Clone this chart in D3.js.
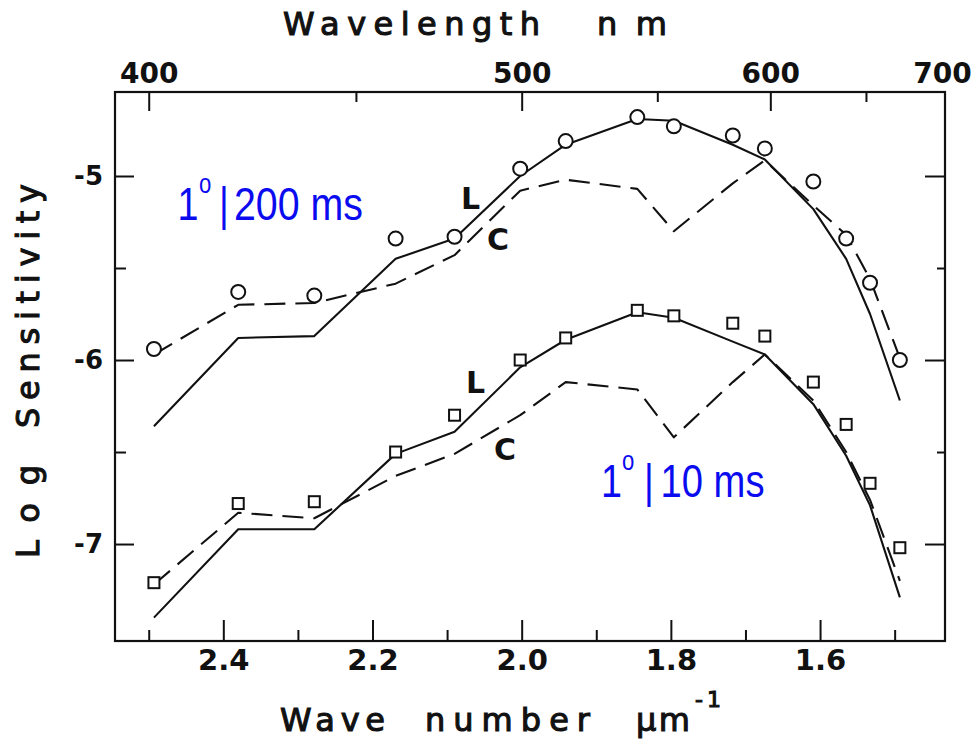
<!DOCTYPE html>
<html><head><meta charset="utf-8">
<script src="https://cdn.jsdelivr.net/npm/d3@7"></script>
<style>
html,body{margin:0;padding:0;background:#fff;}
svg{display:block;}
</style></head>
<body><svg id="chart" width="974" height="748"></svg>
<script>
// Wave numbers (µm^-1) of the test lights
const waveNumbers = [2.493, 2.380, 2.278, 2.169, 2.090, 2.002, 1.941, 1.845, 1.796, 1.717, 1.674, 1.609, 1.565, 1.533, 1.493];

// 1° field, 200 ms flash: measured log sensitivity, luminance (L) and chromatic (C) fits
const measured200 = [-5.94, -5.63, -5.65, -5.34, -5.33, -4.96, -4.81, -4.68, -4.73, -4.78, -4.85, -5.03, -5.34, -5.58, -6.00];
const lumin200    = [-6.36, -5.88, -5.87, -5.45, -5.34, -5.00, -4.83, -4.69, -4.70, -4.83, -4.91, -5.18, -5.45, -5.75, -6.22];
const chrom200    = [-5.97, -5.70, -5.69, -5.585, -5.43, -5.08, -5.02, -5.07, -5.30, -5.04, -4.915, -5.16, -5.32, -5.56, -5.99];

// 1° field, 10 ms flash
const measured10 = [-7.21, -6.78, -6.77, -6.50, -6.30, -6.00, -5.88, -5.73, -5.76, -5.80, -5.87, -6.12, -6.35, -6.67, -7.02];
const lumin10    = [-7.40, -6.92, -6.92, -6.51, -6.39, -6.04, -5.89, -5.74, -5.77, -5.90, -5.97, -6.24, -6.52, -6.79, -7.29];
const chrom10    = [-7.22, -6.83, -6.86, -6.63, -6.51, -6.30, -6.12, -6.16, -6.42, -6.12, -5.97, -6.22, -6.50, -6.76, -7.20];

// Axis ticks
const waveTicks = [2.4, 2.2, 2.0, 1.8, 1.6];
const waveMinorTicks = [2.5, 2.3, 2.1, 1.9, 1.7, 1.5];
const nmTicks = [400, 500, 600, 700];
const nmMinorTicks = [450, 550, 650];
const sensTicks = [-5, -6, -7];
const sensMinorTicks = [-5.5, -6.5];

const svg = d3.select("#chart");
const box = {left: 115, right: 945, top: 92, bottom: 641};

const x = d3.scaleLinear().domain([2.5452, 1.4325]).range([box.left, box.right]);
const y = d3.scaleLinear().domain([-7.527, -4.5435]).range([box.bottom, box.top]);

const ink = "#111";
const face = "'DejaVu Sans', Verdana, sans-serif";

function finishAxis(g, fontSize) {
  g.select(".domain").remove();
  g.attr("font-family", face).attr("font-size", fontSize).attr("font-weight", "bold");
  g.selectAll(".tick line").attr("stroke", ink).attr("stroke-width", 2);
  g.selectAll(".tick text").attr("fill", ink);
}

// bottom axis: wave number
svg.append("g").attr("transform", `translate(0,${box.bottom})`)
  .call(d3.axisBottom(x).tickValues(waveTicks).tickFormat(d3.format(".1f"))
    .tickSizeInner(-21).tickSizeOuter(0).tickPadding(8))
  .call(g => finishAxis(g, 29));
svg.append("g").attr("transform", `translate(0,${box.bottom})`)
  .call(d3.axisBottom(x).tickValues(waveMinorTicks).tickFormat(() => "")
    .tickSizeInner(-11).tickSizeOuter(0))
  .call(g => finishAxis(g, 10));

// top axis: wavelength in nm on the same wave-number scale
svg.append("g").attr("transform", `translate(0,${box.top})`)
  .call(d3.axisTop(x).tickValues(nmTicks.map(n => 1000 / n)).tickFormat(d => Math.round(1000 / d))
    .tickSizeInner(-19).tickSizeOuter(0).tickPadding(9))
  .call(g => finishAxis(g, 28))
  .call(g => {
    const last = g.selectAll(".tick").filter(d => Math.abs(d - 1000 / 700) < 1e-9);
    last.select("line").remove();
    last.select("text").attr("dx", -6);
  });
svg.append("g").attr("transform", `translate(0,${box.top})`)
  .call(d3.axisTop(x).tickValues(nmMinorTicks.map(n => 1000 / n)).tickFormat(() => "")
    .tickSizeInner(-10).tickSizeOuter(0))
  .call(g => finishAxis(g, 10));

// left axis: log sensitivity
svg.append("g").attr("transform", `translate(${box.left},0)`)
  .call(d3.axisLeft(y).tickValues(sensTicks).tickFormat(d => String(d))
    .tickSizeInner(-19).tickSizeOuter(0).tickPadding(12))
  .call(g => finishAxis(g, 26));
svg.append("g").attr("transform", `translate(${box.left},0)`)
  .call(d3.axisLeft(y).tickValues(sensMinorTicks).tickFormat(() => "")
    .tickSizeInner(-11).tickSizeOuter(0))
  .call(g => finishAxis(g, 10));

// right axis ticks
svg.append("g").attr("transform", `translate(${box.right},0)`)
  .call(d3.axisRight(y).tickValues(sensTicks).tickFormat(() => "")
    .tickSizeInner(-20).tickSizeOuter(0))
  .call(g => finishAxis(g, 10));
svg.append("g").attr("transform", `translate(${box.right},0)`)
  .call(d3.axisRight(y).tickValues(sensMinorTicks).tickFormat(() => "")
    .tickSizeInner(-8).tickSizeOuter(0))
  .call(g => finishAxis(g, 10));

// frame
svg.append("rect")
  .attr("x", box.left).attr("y", box.top)
  .attr("width", box.right - box.left).attr("height", box.bottom - box.top)
  .attr("fill", "none").attr("stroke", ink).attr("stroke-width", 2.2);

// curves
const line = d3.line().x(d => x(d[0])).y(d => y(d[1]));
const pairs = vals => waveNumbers.map((w, i) => [w, vals[i]]);

const curves = [
  {vals: lumin200, dash: null},
  {vals: chrom200, dash: "21 10"},
  {vals: lumin10, dash: null},
  {vals: chrom10, dash: "21 10"}
];
svg.append("g").selectAll("path").data(curves).join("path")
  .attr("d", c => line(pairs(c.vals)))
  .attr("fill", "none").attr("stroke", ink).attr("stroke-width", 2.1)
  .attr("stroke-linejoin", "round")
  .attr("stroke-dasharray", c => c.dash);

// measured points
svg.append("g").selectAll("circle").data(pairs(measured200)).join("circle")
  .attr("cx", d => x(d[0])).attr("cy", d => y(d[1])).attr("r", 7)
  .attr("fill", "#fff").attr("stroke", ink).attr("stroke-width", 2);

const sq = 11;
svg.append("g").selectAll("rect").data(pairs(measured10)).join("rect")
  .attr("x", d => x(d[0]) - sq / 2).attr("y", d => y(d[1]) - sq / 2)
  .attr("width", sq).attr("height", sq)
  .attr("fill", "#fff").attr("stroke", ink).attr("stroke-width", 2);

// curve labels
const curveLabels = [
  {t: "L", x: 461, y: 209}, {t: "C", x: 487, y: 250},
  {t: "L", x: 466, y: 393}, {t: "C", x: 494, y: 460}
];
svg.append("g").selectAll("text").data(curveLabels).join("text")
  .attr("x", d => d.x).attr("y", d => d.y).text(d => d.t)
  .attr("font-family", face).attr("font-weight", "bold").attr("font-size", 30)
  .attr("fill", ink);

// condition labels "1°|… ms", set in a horizontally condensed sans face
const squeeze = 0.82;
function condition(xs, base, rest, restLen) {
  const t = svg.append("text")
    .attr("transform", `scale(${squeeze},1)`)
    .attr("fill", "#0b0bf0").attr("font-family", "'Liberation Sans', Arial, sans-serif")
    .attr("font-size", 46).attr("y", base);
  t.append("tspan").attr("x", xs[0] / squeeze).text("1");
  t.append("tspan").attr("x", xs[1] / squeeze).attr("y", base - 27).attr("font-size", 27).text("o");
  t.append("tspan").attr("x", xs[2] / squeeze).attr("y", base).text("|");
  t.append("tspan").attr("x", xs[3] / squeeze)
    .attr("textLength", restLen / squeeze).attr("lengthAdjust", "spacingAndGlyphs").text(rest);
}
condition([177.6, 199, 219, 234], 220, "200 ms", 129);
condition([601, 622, 644, 660.5], 497, "10 ms", 104);

// axis titles
function spaced(txt, x0, yb, len, size, rot) {
  const t = svg.append("text").attr("font-family", face).attr("font-size", size)
    .attr("fill", ink).attr("stroke", ink).attr("stroke-width", 1.1)
    .attr("textLength", len).attr("lengthAdjust", "spacing").text(txt);
  if (rot) t.attr("transform", `translate(${x0},${yb}) rotate(-90)`);
  else t.attr("x", x0).attr("y", yb);
  return t;
}
spaced("Wavelength", 283, 35, 257, 32);
spaced("nm", 597, 35, 70, 32);
spaced("Wave", 280, 731, 105, 32);
spaced("number", 425, 731, 165, 32);
spaced("µm", 636, 731, 54, 32);
spaced("-1", 695, 707, 26, 22);
spaced("Log", 39, 558, 93, 32, true);
spaced("Sensitivity", 39, 428, 244, 32, true);
</script>
</body></html>
